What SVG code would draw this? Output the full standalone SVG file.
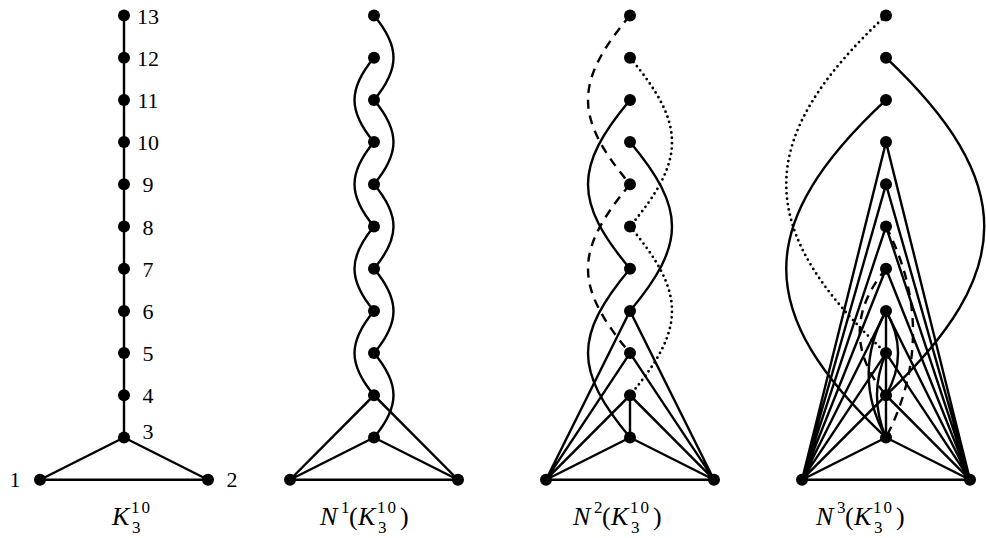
<svg xmlns="http://www.w3.org/2000/svg" width="986" height="538" viewBox="0 0 986 538">
<style>
.e{fill:none;stroke:#000;stroke-width:2.4}
.da{stroke-dasharray:9 7}
.do{stroke-dasharray:0 5.4;stroke-linecap:round;stroke-width:2.8}
.n{fill:#000}
.t{font-family:"Liberation Serif","DejaVu Serif",serif;font-size:22px;fill:#000;text-anchor:middle}
.c{font-family:"Liberation Serif","DejaVu Serif",serif;font-size:26px;fill:#000}
.i{font-style:italic}
.s{font-size:17px}
.ls{letter-spacing:2px}
</style>
<rect width="986" height="538" fill="#fff"/>
<g id="connectors">
<path class="e" d="M124,15.5V437.5M124,437.5L40,479.7H208Z"/>
<path class="e" d="M374,15.5C400,46.5 400,68.9 374,99.9"/>
<path class="e" d="M374,57.7C348,88.7 348,111.1 374,142.1"/>
<path class="e" d="M374,99.9C400,130.9 400,153.3 374,184.3"/>
<path class="e" d="M374,142.1C348,173.1 348,195.5 374,226.5"/>
<path class="e" d="M374,184.3C400,215.3 400,237.7 374,268.7"/>
<path class="e" d="M374,226.5C348,257.5 348,279.9 374,310.9"/>
<path class="e" d="M374,268.7C400,299.7 400,322.1 374,353.1"/>
<path class="e" d="M374,310.9C348,341.9 348,364.3 374,395.3"/>
<path class="e" d="M374,353.1C400,384.1 400,406.5 374,437.5"/>
<path class="e" d="M290,479.7H458L374,395.3ZM290,479.7L374,437.5L458,479.7"/>
<path class="e da" d="M630,15.5C574,82.5 574,117.3 630,184.3"/>
<path class="e da" d="M630,184.3C574,251.3 574,286.1 630,353.1"/>
<path class="e do" d="M630,57.7C686,124.7 686,159.5 630,226.5"/>
<path class="e do" d="M630,226.5C686,293.5 686,328.3 630,395.3"/>
<path class="e" d="M630,99.9C574,166.9 574,201.7 630,268.7"/>
<path class="e" d="M630,268.7C574,335.7 574,370.5 630,437.5"/>
<path class="e" d="M630,142.1C686,209.1 686,243.9 630,310.9"/>
<path class="e" d="M546,479.7H714M546,479.7L630,310.9L714,479.7M546,479.7L630,353.1L714,479.7M546,479.7L630,395.3L714,479.7M546,479.7L630,437.5L714,479.7M630,395.3V437.5"/>
<path class="e do" d="M886,15.5C753,139.5 753,229.1 886,353.1"/>
<path class="e" d="M886,57.7C1017,181.7 1017,271.3 886,395.3"/>
<path class="e" d="M886,99.9C753,223.9 753,313.5 886,437.5"/>
<path class="e" d="M802,479.7H970M802,479.7L886,142.1L970,479.7M802,479.7L886,184.3L970,479.7M802,479.7L886,226.5L970,479.7M802,479.7L886,268.7L970,479.7M802,479.7L886,310.9L970,479.7M802,479.7L886,353.1L970,479.7M802,479.7L886,395.3L970,479.7M802,479.7L886,437.5L970,479.7M886,310.9V437.5"/>
<path class="e" d="M886,310.9C863,352.9 863,395.5 886,437.5"/>
<path class="e" d="M886,353.1C874,381.1 874,409.5 886,437.5"/>
<path class="e" d="M886,310.9C902,338.9 902,367.3 886,395.3"/>
<path class="e da" d="M886,268.7C851,310.7 851,353.3 886,395.3"/>
<path class="e da" d="M886,226.5C922,296.5 922,367.5 886,437.5"/>
</g>
<g id="p1-n13"><circle class="n" cx="124" cy="15.5" r="6"/><text class="t" x="148" y="23.5">13</text></g>
<g id="p1-n12"><circle class="n" cx="124" cy="57.7" r="6"/><text class="t" x="148" y="65.7">12</text></g>
<g id="p1-n11"><circle class="n" cx="124" cy="99.9" r="6"/><text class="t" x="148" y="107.9">11</text></g>
<g id="p1-n10"><circle class="n" cx="124" cy="142.1" r="6"/><text class="t" x="148" y="150.1">10</text></g>
<g id="p1-n9"><circle class="n" cx="124" cy="184.3" r="6"/><text class="t" x="148" y="192.3">9</text></g>
<g id="p1-n8"><circle class="n" cx="124" cy="226.5" r="6"/><text class="t" x="148" y="234.5">8</text></g>
<g id="p1-n7"><circle class="n" cx="124" cy="268.7" r="6"/><text class="t" x="148" y="276.7">7</text></g>
<g id="p1-n6"><circle class="n" cx="124" cy="310.9" r="6"/><text class="t" x="148" y="318.9">6</text></g>
<g id="p1-n5"><circle class="n" cx="124" cy="353.1" r="6"/><text class="t" x="148" y="361.1">5</text></g>
<g id="p1-n4"><circle class="n" cx="124" cy="395.3" r="6"/><text class="t" x="148" y="403.3">4</text></g>
<g id="p1-n3"><circle class="n" cx="124" cy="437.5" r="6"/><text class="t" x="148" y="438.5">3</text></g>
<g id="p1-n1"><circle class="n" cx="40" cy="479.7" r="6"/><text class="t" x="15" y="487">1</text></g>
<g id="p1-n2"><circle class="n" cx="208" cy="479.7" r="6"/><text class="t" x="232" y="487">2</text></g>
<g id="p2-nodes">
<g id="p2-n13"><circle class="n" cx="374" cy="15.5" r="6"/></g>
<g id="p2-n12"><circle class="n" cx="374" cy="57.7" r="6"/></g>
<g id="p2-n11"><circle class="n" cx="374" cy="99.9" r="6"/></g>
<g id="p2-n10"><circle class="n" cx="374" cy="142.1" r="6"/></g>
<g id="p2-n9"><circle class="n" cx="374" cy="184.3" r="6"/></g>
<g id="p2-n8"><circle class="n" cx="374" cy="226.5" r="6"/></g>
<g id="p2-n7"><circle class="n" cx="374" cy="268.7" r="6"/></g>
<g id="p2-n6"><circle class="n" cx="374" cy="310.9" r="6"/></g>
<g id="p2-n5"><circle class="n" cx="374" cy="353.1" r="6"/></g>
<g id="p2-n4"><circle class="n" cx="374" cy="395.3" r="6"/></g>
<g id="p2-n3"><circle class="n" cx="374" cy="437.5" r="6"/></g>
<g id="p2-n1"><circle class="n" cx="290" cy="479.7" r="6"/></g>
<g id="p2-n2"><circle class="n" cx="458" cy="479.7" r="6"/></g>
</g>
<g id="p3-nodes">
<g id="p3-n13"><circle class="n" cx="630" cy="15.5" r="6"/></g>
<g id="p3-n12"><circle class="n" cx="630" cy="57.7" r="6"/></g>
<g id="p3-n11"><circle class="n" cx="630" cy="99.9" r="6"/></g>
<g id="p3-n10"><circle class="n" cx="630" cy="142.1" r="6"/></g>
<g id="p3-n9"><circle class="n" cx="630" cy="184.3" r="6"/></g>
<g id="p3-n8"><circle class="n" cx="630" cy="226.5" r="6"/></g>
<g id="p3-n7"><circle class="n" cx="630" cy="268.7" r="6"/></g>
<g id="p3-n6"><circle class="n" cx="630" cy="310.9" r="6"/></g>
<g id="p3-n5"><circle class="n" cx="630" cy="353.1" r="6"/></g>
<g id="p3-n4"><circle class="n" cx="630" cy="395.3" r="6"/></g>
<g id="p3-n3"><circle class="n" cx="630" cy="437.5" r="6"/></g>
<g id="p3-n1"><circle class="n" cx="546" cy="479.7" r="6"/></g>
<g id="p3-n2"><circle class="n" cx="714" cy="479.7" r="6"/></g>
</g>
<g id="p4-nodes">
<g id="p4-n13"><circle class="n" cx="886" cy="15.5" r="6"/></g>
<g id="p4-n12"><circle class="n" cx="886" cy="57.7" r="6"/></g>
<g id="p4-n11"><circle class="n" cx="886" cy="99.9" r="6"/></g>
<g id="p4-n10"><circle class="n" cx="886" cy="142.1" r="6"/></g>
<g id="p4-n9"><circle class="n" cx="886" cy="184.3" r="6"/></g>
<g id="p4-n8"><circle class="n" cx="886" cy="226.5" r="6"/></g>
<g id="p4-n7"><circle class="n" cx="886" cy="268.7" r="6"/></g>
<g id="p4-n6"><circle class="n" cx="886" cy="310.9" r="6"/></g>
<g id="p4-n5"><circle class="n" cx="886" cy="353.1" r="6"/></g>
<g id="p4-n4"><circle class="n" cx="886" cy="395.3" r="6"/></g>
<g id="p4-n3"><circle class="n" cx="886" cy="437.5" r="6"/></g>
<g id="p4-n1"><circle class="n" cx="802" cy="479.7" r="6"/></g>
<g id="p4-n2"><circle class="n" cx="970" cy="479.7" r="6"/></g>
</g>
<g id="captions">
<text class="c"><tspan class="i" x="112" y="525">K</tspan><tspan class="s ls" x="131" y="513">10</tspan><tspan class="s" x="132" y="533">3</tspan></text>
<text class="c"><tspan class="i" x="320" y="525">N</tspan><tspan class="s" x="341" y="513">1</tspan><tspan x="349" y="525">(</tspan><tspan class="i" x="358" y="525">K</tspan><tspan class="s ls" x="377" y="513">10</tspan><tspan class="s" x="378" y="533">3</tspan><tspan x="400" y="525">)</tspan></text>
<text class="c"><tspan class="i" x="573" y="525">N</tspan><tspan class="s" x="594" y="513">2</tspan><tspan x="602" y="525">(</tspan><tspan class="i" x="611" y="525">K</tspan><tspan class="s ls" x="630" y="513">10</tspan><tspan class="s" x="631" y="533">3</tspan><tspan x="653" y="525">)</tspan></text>
<text class="c"><tspan class="i" x="816" y="525">N</tspan><tspan class="s" x="837" y="513">3</tspan><tspan x="845" y="525">(</tspan><tspan class="i" x="854" y="525">K</tspan><tspan class="s ls" x="873" y="513">10</tspan><tspan class="s" x="874" y="533">3</tspan><tspan x="896" y="525">)</tspan></text>
</g>
</svg>
